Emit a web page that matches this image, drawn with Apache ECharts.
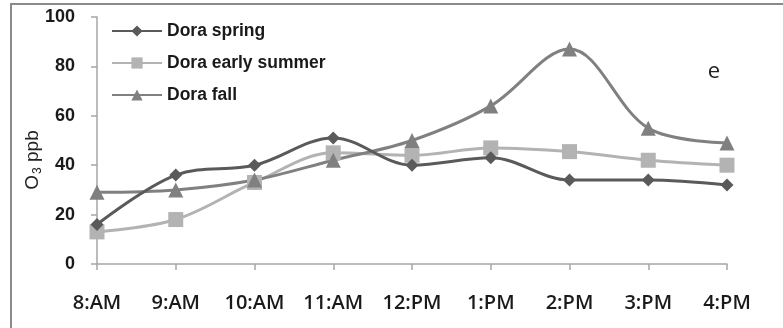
<!DOCTYPE html>
<html>
<head>
<meta charset="utf-8">
<script src="https://cdn.jsdelivr.net/npm/echarts@6/dist/echarts.min.js"></script>
<style>html,body{margin:0;padding:0;background:#fff}#c{width:783px;height:328px}</style>
</head>
<body>
<div id="c"></div>
<script>
var categories = ['8:AM','9:AM','10:AM','11:AM','12:PM','1:PM','2:PM','3:PM','4:PM'];
var spring = [16, 36, 40, 51, 40, 43, 34, 34, 32];
var earlySummer = [13, 18, 33, 45, 44, 47, 45.5, 42, 40];
var fall = [29, 30, 34, 42, 50, 64, 87, 55, 49];
var yTicks = [0, 20, 40, 60, 80, 100];

var chart = echarts.init(document.getElementById('c'));
chart.setOption({
  animation: false,
  backgroundColor: '#fff',
  textStyle: {fontFamily: 'Liberation Sans'},
  grid: {left: 97, right: 56, top: 17, bottom: 64},
  graphic: [
    {type: 'rect', shape: {x: 11, y: 4, width: 800, height: 340}, style: {fill: 'none', stroke: '#8a8a8a', lineWidth: 2}, z: -1},
    {type: 'text', x: 714, y: 72, style: {text: 'e', font: '22px "Open Sans"', fill: '#222', align: 'center', verticalAlign: 'middle'}},
    {type: 'text', x: 33, y: 160, rotation: Math.PI / 2,
      style: {text: '{a|O}{s|3}{a| ppb}', align: 'center', verticalAlign: 'middle',
        rich: {
          a: {fontFamily: 'Liberation Sans', fontSize: 19, fill: '#222', lineHeight: 22, verticalAlign: 'middle'},
          s: {fontFamily: 'Liberation Sans', fontSize: 12, fill: '#222', lineHeight: 22, verticalAlign: 'bottom', padding: [6, 0, 0, 1]}
        }}}
  ],
  legend: {
    orient: 'vertical', left: 106, top: 17, itemWidth: 50, itemHeight: 14, itemGap: 14,
    textStyle: {fontFamily: 'Liberation Sans', fontSize: 17.5, fontWeight: 'bold', color: '#1a1a1a'},
    data: ['Dora spring', 'Dora early summer', 'Dora fall']
  },
  xAxis: {
    type: 'category', data: categories, boundaryGap: false,
    axisLine: {lineStyle: {color: '#a6a6a6', width: 1.5}},
    axisTick: {show: true, length: 6, lineStyle: {color: '#a6a6a6', width: 1.5}},
    axisLabel: {fontSize: 20, fontWeight: 600, color: '#1a1a1a', margin: 29, fontFamily: 'Open Sans'}
  },
  yAxis: {
    type: 'value', min: 0, max: 100, interval: 20,
    axisLine: {show: true, lineStyle: {color: '#a6a6a6', width: 1.5}},
    axisTick: {show: true, length: 6, lineStyle: {color: '#a6a6a6', width: 1.5}},
    splitLine: {show: false},
    axisLabel: {fontSize: 18, fontWeight: 'bold', color: '#1a1a1a', margin: 22, fontFamily: 'Liberation Sans',
      formatter: function(v){ return yTicks.indexOf(v) >= 0 ? String(v) : ''; }}
  },
  series: [
    {name: 'Dora spring', type: 'line', data: spring, smooth: 0.35, symbol: 'diamond', symbolSize: 13,
      itemStyle: {color: '#5a5a5a'}, lineStyle: {width: 3, color: '#5a5a5a'}, z: 3},
    {name: 'Dora early summer', type: 'line', data: earlySummer, smooth: 0.35, symbol: 'rect', symbolSize: 15,
      itemStyle: {color: '#b3b3b3'}, lineStyle: {width: 3, color: '#b3b3b3'}, z: 2},
    {name: 'Dora fall', type: 'line', data: fall, smooth: 0.35, symbol: 'triangle', symbolSize: 15,
      itemStyle: {color: '#808080'}, lineStyle: {width: 3, color: '#808080'}, z: 2}
  ]
});
</script>
</body>
</html>
